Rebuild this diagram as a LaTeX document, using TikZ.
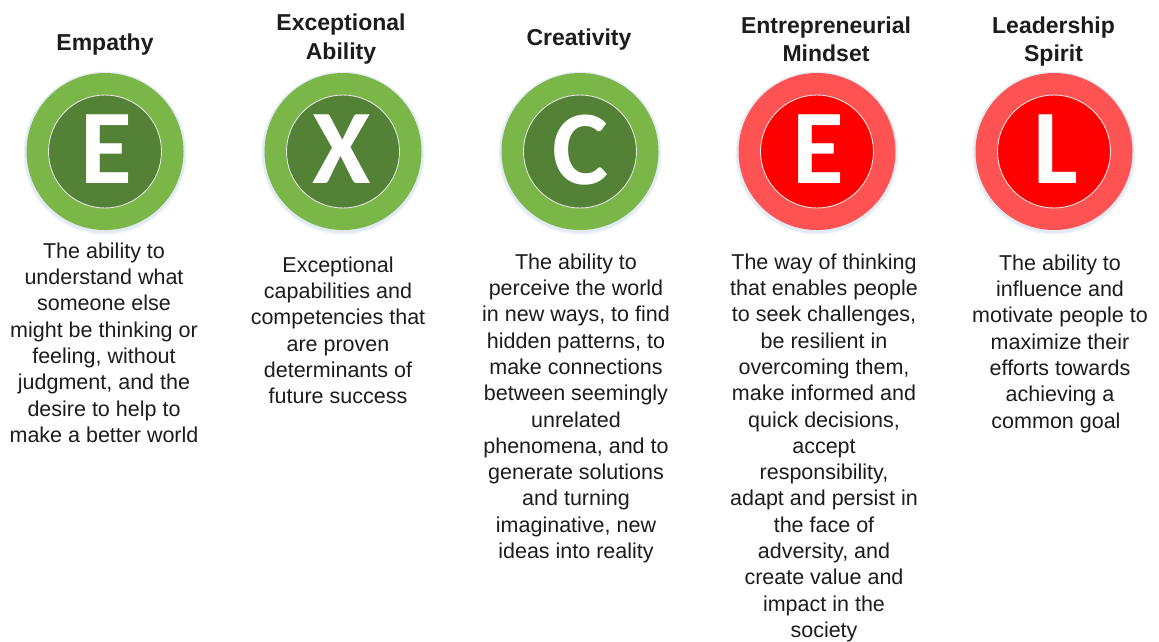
\documentclass[tikz,border=0pt]{standalone}
\usepackage{fontspec}
\setmainfont{Liberation Sans}
\newfontfamily\letterfont{Carlito}
\definecolor{gOut}{HTML}{7AB648}
\definecolor{gIn}{HTML}{538135}
\definecolor{rOut}{HTML}{FF5353}
\definecolor{rIn}{HTML}{FF0000}
\definecolor{txt}{HTML}{1C1C1C}
\definecolor{glow}{HTML}{B8CCE4}
\begin{document}
\begin{tikzpicture}[x=1pt,y=-1pt,
  outerdisk/.style={circle, minimum size=157pt, inner sep=0pt},
  innerdisk/.style={circle, minimum size=113pt, inner sep=0pt, draw=white!78!gray, line width=0.9pt},
  glowring/.style={circle, minimum size=#1, inner sep=0pt, fill=glow, fill opacity=0.22},
  letter/.style={anchor=base, inner sep=0pt, text=white, font=\letterfont\bfseries\fontsize{106}{106}\selectfont},
  titletext/.style={anchor=north, inner sep=0pt, align=center, text=txt, font=\bfseries\fontsize{23}{28.5}\selectfont},
  bodytext/.style={anchor=north, inner sep=0pt, align=center, text=txt, font=\fontsize{21.5}{26.3}\selectfont}]
\useasboundingbox (0,0) rectangle (1159,641);
\fill[white] (0,0) rectangle (1159,641);

% glow under circles
\foreach \cx in {105,343,580,817,1054}{
  \node[glowring=163pt] at (\cx,153) {};
  \node[glowring=161pt] at (\cx,152.5) {};
}

% circles
\node[outerdisk, fill=gOut] (o1) at (105,151.5) {};
\node[innerdisk, fill=gIn] (i1) at (o1.center) {};
\node[outerdisk, fill=gOut] (o2) at (343,151.5) {};
\node[innerdisk, fill=gIn] (i2) at (o2.center) {};
\node[outerdisk, fill=gOut] (o3) at (580,151.5) {};
\node[innerdisk, fill=gIn] (i3) at (o3.center) {};
\node[outerdisk, fill=rOut] (o4) at (817,151.5) {};
\node[innerdisk, fill=rIn] (i4) at (o4.center) {};
\node[outerdisk, fill=rOut] (o5) at (1054,151.5) {};
\node[innerdisk, fill=rIn] (i5) at (o5.center) {};

% letters
\node[letter] (l1) at (106,183) {E};
\node[letter] (l2) at (342,183) {X};
\node[letter] (l3) at (581,184) {C};
\node[letter] (l4) at (818,183) {E};
\node[letter] (l5) at (1056,183) {L};

% titles
\node[titletext] (t1) at (105,30) {\strut Empathy};
\node[titletext] (t2) at (341,10.5) {\strut Exceptional\\Ability};
\node[titletext] (t3) at (579,25) {\strut Creativity};
\node[titletext] (t4) at (826,13) {\strut Entrepreneurial\\Mindset};
\node[titletext] (t5) at (1053.5,13) {\strut Leadership\\Spirit};

% descriptions
\node[bodytext] (d1) at (104,239.6) {\strut The ability to\\understand what\\someone else\\might be thinking or\\feeling, without\\judgment, and the\\desire to help to\\make a better world};
\node[bodytext] (d2) at (338,253.6) {\strut Exceptional\\capabilities and\\competencies that\\are proven\\determinants of\\future success};
\node[bodytext] (d3) at (576,250.6) {\strut The ability to\\perceive the world\\in new ways, to find\\hidden patterns, to\\make connections\\between seemingly\\unrelated\\phenomena, and to\\generate solutions\\and turning\\imaginative, new\\ideas into reality};
\node[bodytext] (d4) at (824,250.6) {\strut The way of thinking\\that enables people\\to seek challenges,\\be resilient in\\overcoming them,\\make informed and\\quick decisions,\\accept\\responsibility,\\adapt and persist in\\the face of\\adversity, and\\create value and\\impact in the\\society};
\node[bodytext] (d5) at (1060,251.6) {\strut The ability to\\influence and\\motivate people to\\maximize their\\efforts towards\\achieving a\\common goal\hspace*{8pt}};
\end{tikzpicture}
\end{document}
